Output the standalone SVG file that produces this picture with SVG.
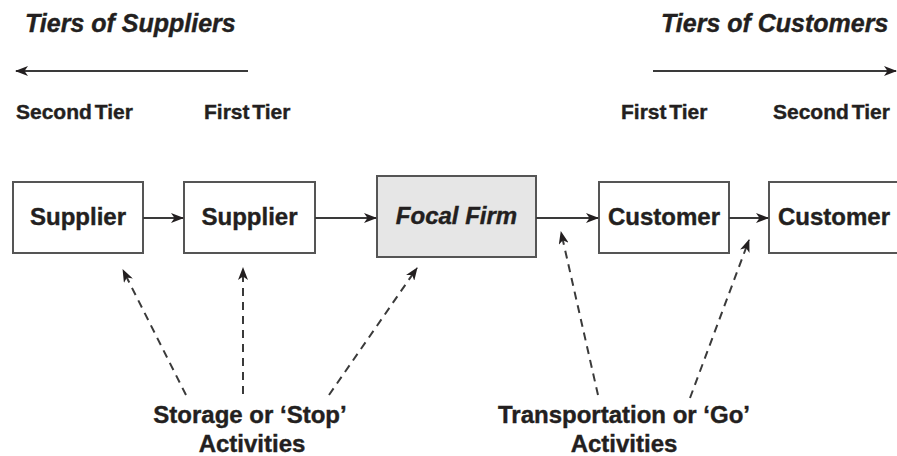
<svg xmlns="http://www.w3.org/2000/svg" width="897" height="456" viewBox="0 0 897 456">
  <style>
    text { font-family: "Liberation Sans", Arial, sans-serif; font-weight: bold; fill: #231f20; stroke: #231f20; stroke-width: 0.4; }
    .title { font-size: 25px; font-style: italic; }
    .tier { font-size: 21px; word-spacing: -3px; }
    .label { font-size: 24px; text-anchor: middle; }
    .box { fill: #ffffff; stroke: #555555; stroke-width: 2; }
    .focal { fill: #e6e6e6; stroke: #555555; stroke-width: 2; }
    .flow { stroke: #3a3a3a; stroke-width: 2; fill: none; marker-end: url(#head); }
    .dash { stroke: #3a3a3a; stroke-width: 2; fill: none; stroke-dasharray: 8 6; marker-end: url(#head); }
  </style>
  <defs>
    <marker id="head" viewBox="0 0 13 10" refX="12" refY="5" markerWidth="13" markerHeight="10" markerUnits="userSpaceOnUse" orient="auto">
      <path d="M0,0 L13,5 L0,10 L3.5,5 Z" fill="#231f20"/>
    </marker>
  </defs>

  <!-- headings and tier direction arrows -->
  <g id="suppliers-heading">
    <text class="title" x="25" y="32">Tiers of Suppliers</text>
    <line class="flow" x1="248" y1="71" x2="16" y2="71"/>
    <text class="tier" x="16" y="119">Second Tier</text>
    <text class="tier" x="204" y="119">First Tier</text>
  </g>
  <g id="customers-heading">
    <text class="title" x="661" y="32">Tiers of Customers</text>
    <line class="flow" x1="653" y1="71" x2="896" y2="71"/>
    <text class="tier" x="621" y="119">First Tier</text>
    <text class="tier" x="773" y="119">Second Tier</text>
  </g>

  <!-- chain nodes -->
  <g id="supplier2">
    <rect class="box" x="13" y="182" width="130" height="71"/>
    <text class="label" x="78" y="225">Supplier</text>
  </g>
  <g id="supplier1">
    <rect class="box" x="184" y="182" width="131" height="71"/>
    <text class="label" x="249.5" y="225">Supplier</text>
  </g>
  <g id="focal-firm">
    <rect class="focal" x="377" y="176" width="159" height="81"/>
    <text class="label" x="456.5" y="224" font-style="italic">Focal Firm</text>
  </g>
  <g id="customer1">
    <rect class="box" x="599" y="182" width="130" height="71"/>
    <text class="label" x="664" y="225">Customer</text>
  </g>
  <g id="customer2">
    <rect class="box" x="769" y="182" width="140" height="71"/>
    <text class="label" x="834" y="225">Customer</text>
  </g>

  <!-- connectors -->
  <g id="connectors">
    <line class="flow" x1="143" y1="218" x2="183" y2="218"/>
    <line class="flow" x1="315" y1="218" x2="376" y2="218"/>
    <line class="flow" x1="536" y1="218" x2="598" y2="218"/>
    <line class="flow" x1="729" y1="218" x2="768" y2="218"/>
    <line class="dash" x1="186" y1="395" x2="123" y2="270"/>
    <line class="dash" x1="243" y1="394" x2="243" y2="268"/>
    <line class="dash" x1="329" y1="395" x2="417" y2="268"/>
    <line class="dash" x1="598" y1="395" x2="561" y2="232"/>
    <line class="dash" x1="690" y1="398" x2="749" y2="240"/>
  </g>

  <!-- activity captions -->
  <g id="storage-caption">
    <text class="label" x="250" y="423">Storage or ‘Stop’</text>
    <text class="label" x="252" y="452">Activities</text>
  </g>
  <g id="transport-caption">
    <text class="label" x="624" y="423">Transportation or ‘Go’</text>
    <text class="label" x="624" y="452">Activities</text>
  </g>
</svg>
